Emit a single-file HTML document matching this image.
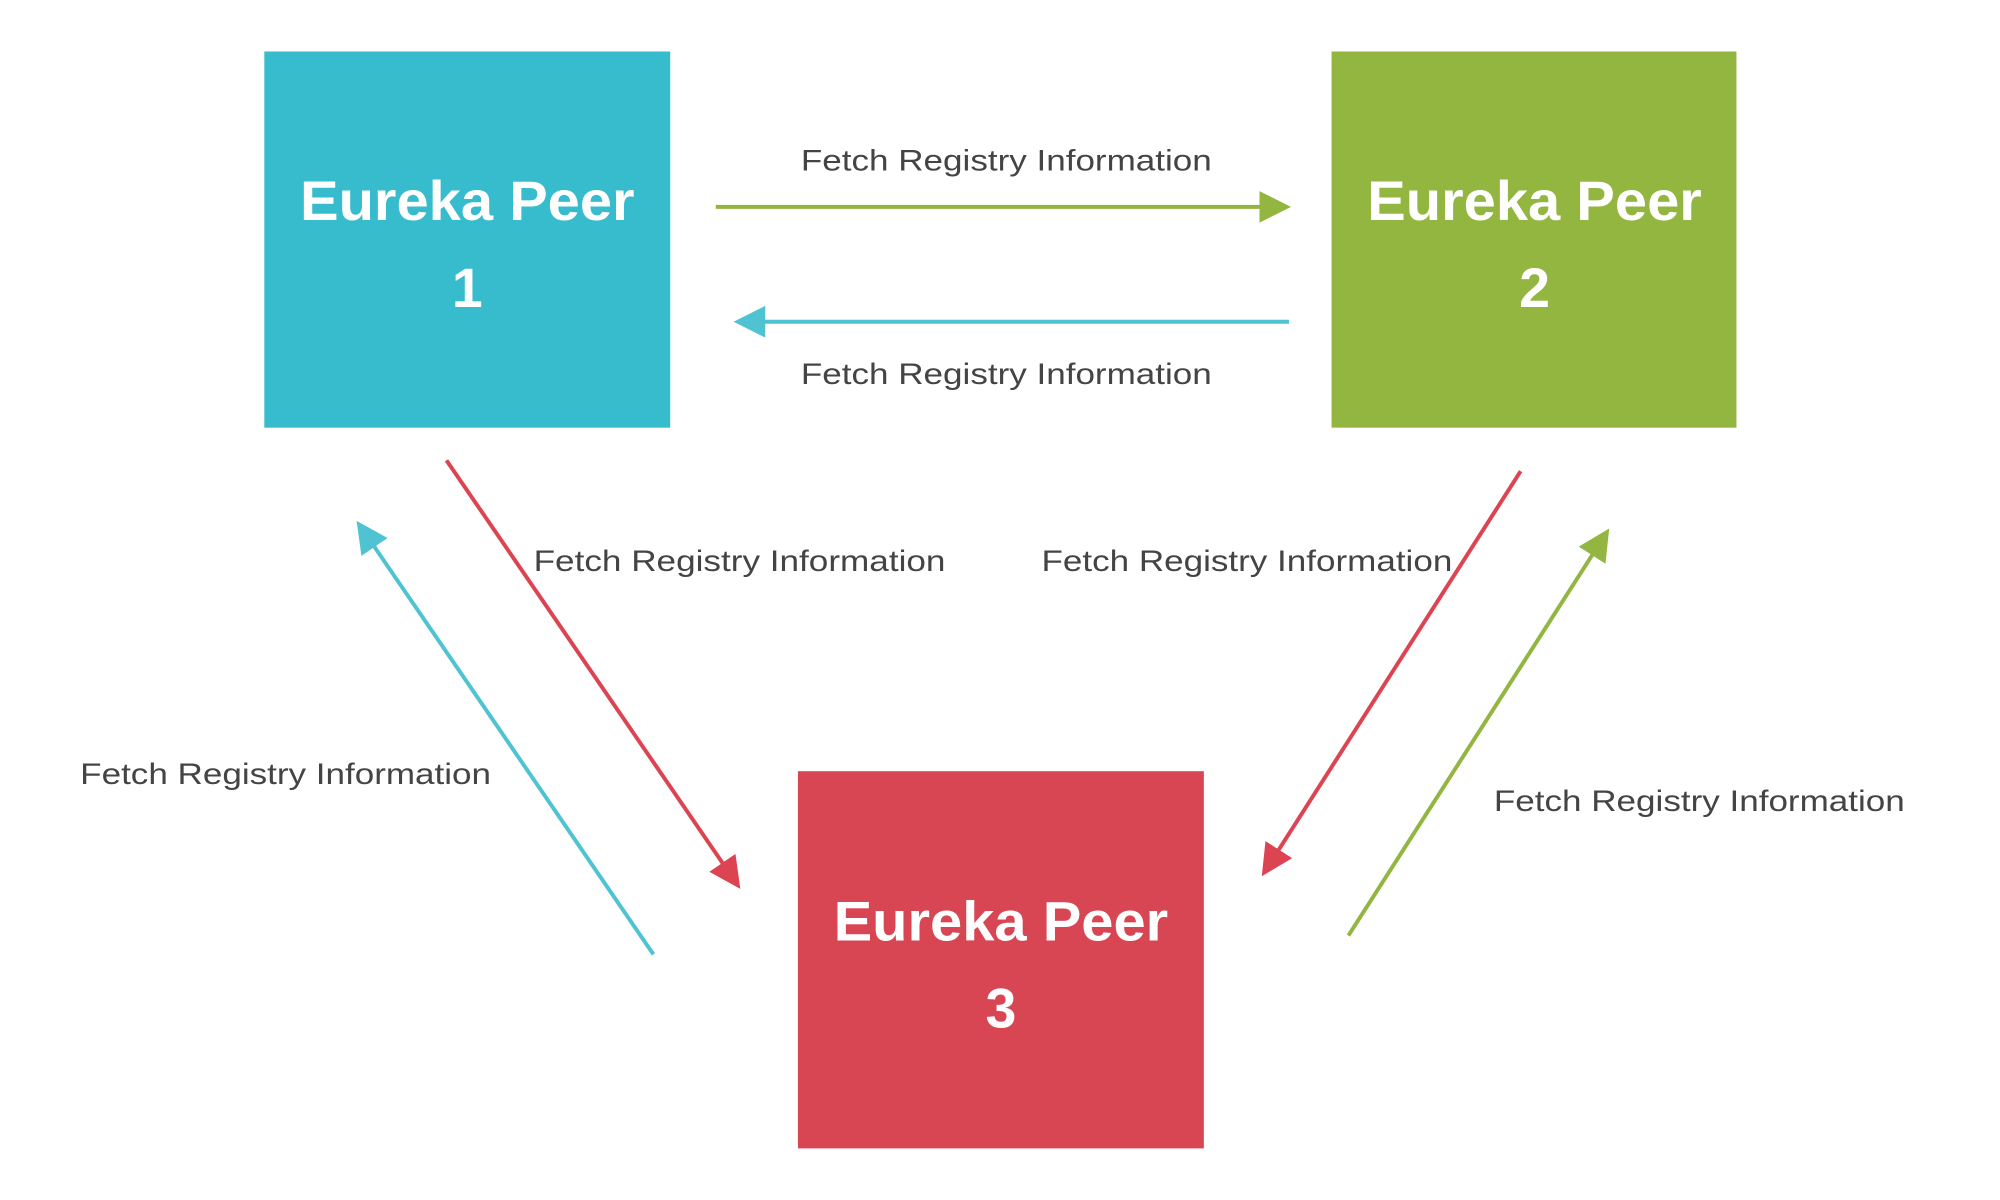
<!DOCTYPE html>
<html><head><meta charset="utf-8"><style>
html,body{margin:0;padding:0;background:#fff;}
svg{display:block;}
</style></head><body>
<svg width="2000" height="1200" viewBox="0 0 2000 1200" xmlns="http://www.w3.org/2000/svg">
<defs>
<marker id="mg" markerWidth="8" markerHeight="8" refX="5" refY="4" orient="auto" markerUnits="strokeWidth"><path d="M0,0 L8,4 L0,8 z" fill="#92b640"/></marker>
<marker id="mc" markerWidth="8" markerHeight="8" refX="5" refY="4" orient="auto" markerUnits="strokeWidth"><path d="M0,0 L8,4 L0,8 z" fill="#4fc3d2"/></marker>
<marker id="mr" markerWidth="8" markerHeight="8" refX="5" refY="4" orient="auto" markerUnits="strokeWidth"><path d="M0,0 L8,4 L0,8 z" fill="#dc4452"/></marker>
</defs>
<g transform="scale(0.99)">
<rect x="267" y="52" width="410" height="380" fill="#36bccd"/>
<rect x="1345" y="52" width="409" height="380" fill="#92b640"/>
<rect x="806" y="779" width="410" height="381" fill="#d84553"/>
<g font-family="Liberation Sans, sans-serif" font-weight="bold" font-size="56" fill="#fff" text-anchor="middle">
<text x="472" y="222" textLength="338" lengthAdjust="spacingAndGlyphs">Eureka Peer</text>
<text x="472" y="310">1</text>
<text x="1550" y="222" textLength="338" lengthAdjust="spacingAndGlyphs">Eureka Peer</text>
<text x="1550" y="310">2</text>
<text x="1011" y="950" textLength="338" lengthAdjust="spacingAndGlyphs">Eureka Peer</text>
<text x="1011" y="1038">3</text>
</g>
<g stroke-width="4" fill="none">
<line x1="723" y1="209" x2="1292" y2="209" stroke="#92b640" marker-end="url(#mg)"/>
<line x1="1302" y1="325" x2="753" y2="325" stroke="#4fc3d2" marker-end="url(#mc)"/>
<line x1="451" y1="465" x2="741" y2="888" stroke="#dc4452" marker-end="url(#mr)"/>
<line x1="660" y1="964" x2="367" y2="536" stroke="#4fc3d2" marker-end="url(#mc)"/>
<line x1="1536" y1="476" x2="1281" y2="875" stroke="#dc4452" marker-end="url(#mr)"/>
<line x1="1362" y1="945" x2="1619" y2="544" stroke="#92b640" marker-end="url(#mg)"/>
</g>
<g font-family="Liberation Sans, sans-serif" font-size="30" fill="#444">
<text x="809" y="172" textLength="415" lengthAdjust="spacingAndGlyphs">Fetch Registry Information</text>
<text x="809" y="388" textLength="415" lengthAdjust="spacingAndGlyphs">Fetch Registry Information</text>
<text x="539" y="577" textLength="416" lengthAdjust="spacingAndGlyphs">Fetch Registry Information</text>
<text x="1052" y="577" textLength="415" lengthAdjust="spacingAndGlyphs">Fetch Registry Information</text>
<text x="81" y="792" textLength="415" lengthAdjust="spacingAndGlyphs">Fetch Registry Information</text>
<text x="1509" y="819" textLength="415" lengthAdjust="spacingAndGlyphs">Fetch Registry Information</text>
</g>
</g>
</svg>
</body></html>
